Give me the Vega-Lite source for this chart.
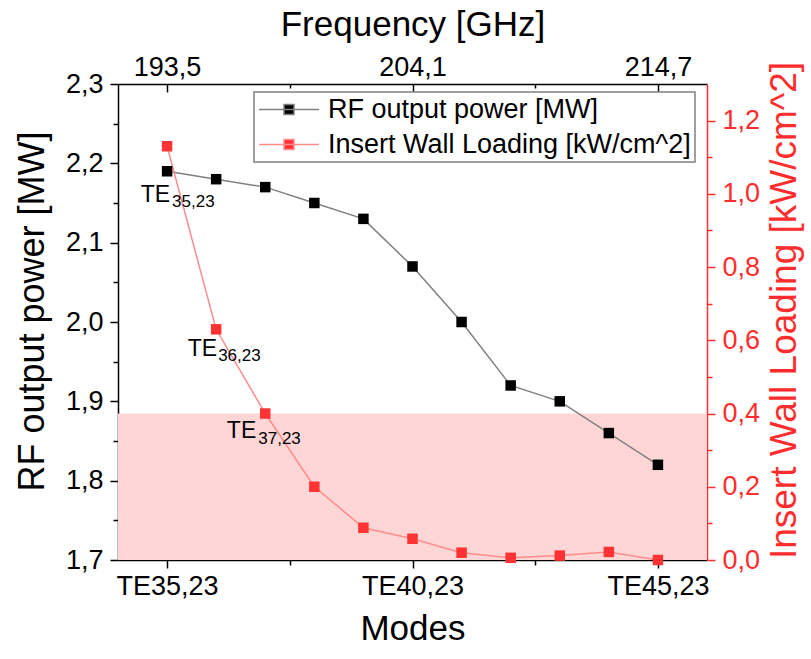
{
  "$schema": "https://vega.github.io/schema/vega-lite/v6.json",
  "width": 589,
  "height": 476,
  "autosize": {"type": "none"},
  "padding": {"left": 118, "top": 84, "right": 104, "bottom": 99},
  "config": {
    "view": {"stroke": null},
    "font": "Liberation Sans",
    "axis": {
      "grid": false,
      "labelFont": "Liberation Sans",
      "titleFont": "Liberation Sans",
      "titleFontWeight": "normal",
      "labelColor": "#000000",
      "titleColor": "#000000",
      "domainColor": "#000000",
      "tickColor": "#000000",
      "labelFontSize": 27,
      "titleFontSize": 35,
      "domainWidth": 1.5,
      "tickWidth": 1.5,
      "zindex": 1
    }
  },
  "data": {
    "values": [
      {"mode": 35, "rf": 2.19, "iwl": 1.13},
      {"mode": 36, "rf": 2.18, "iwl": 0.63},
      {"mode": 37, "rf": 2.17, "iwl": 0.40},
      {"mode": 38, "rf": 2.15, "iwl": 0.20},
      {"mode": 39, "rf": 2.13, "iwl": 0.088},
      {"mode": 40, "rf": 2.07, "iwl": 0.058},
      {"mode": 41, "rf": 2.00, "iwl": 0.02},
      {"mode": 42, "rf": 1.92, "iwl": 0.006},
      {"mode": 43, "rf": 1.90, "iwl": 0.012},
      {"mode": 44, "rf": 1.86, "iwl": 0.022},
      {"mode": 45, "rf": 1.82, "iwl": 0.0}
    ]
  },
  "resolve": {
    "scale": {"x": "independent", "y": "independent", "color": "shared"},
    "axis": {"x": "independent", "y": "independent"}
  },
  "layer": [
    {
      "data": {"values": [{"lo": 0, "hi": 0.4}]},
      "mark": {"type": "rect", "color": "#ffd6d6"},
      "encoding": {
        "y": {"field": "lo", "type": "quantitative", "scale": {"domain": [0, 1.3], "nice": false, "zero": false}, "axis": null},
        "y2": {"field": "hi"}
      }
    },
    {
      "mark": {"type": "point", "opacity": 0},
      "encoding": {
        "x": {"field": "mode", "type": "quantitative", "scale": {"domain": [34, 46], "nice": false, "zero": false},
              "axis": {"orient": "bottom", "values": [37.5, 42.5], "labels": false, "domain": false, "tickSize": 5, "title": null}},
        "y": {"field": "rf", "type": "quantitative", "scale": {"domain": [1.7, 2.3], "nice": false, "zero": false},
              "axis": {"orient": "left", "values": [1.75, 1.85, 1.95, 2.05, 2.15, 2.25], "labels": false, "domain": false, "tickSize": 5, "title": null}}
      }
    },
    {
      "mark": {"type": "point", "opacity": 0},
      "encoding": {
        "x": {"field": "mode", "type": "quantitative", "scale": {"domain": [34, 46], "nice": false, "zero": false},
              "axis": {"orient": "top", "values": [37.5, 42.5], "labels": false, "domain": false, "tickSize": -4, "title": null}},
        "y": {"field": "iwl", "type": "quantitative", "scale": {"domain": [0, 1.3], "nice": false, "zero": false},
              "axis": {"orient": "right", "values": [0.1, 0.3, 0.5, 0.7, 0.9, 1.1], "labels": false, "domain": false, "tickSize": 5, "tickColor": "#ff2d2d", "title": null}}
      }
    },
    {
      "mark": {"type": "line", "color": "#808080", "strokeWidth": 1.5},
      "encoding": {
        "x": {"field": "mode", "type": "quantitative", "scale": {"domain": [34, 46], "nice": false, "zero": false}, "axis": null},
        "y": {"field": "rf", "type": "quantitative", "scale": {"domain": [1.7, 2.3], "nice": false, "zero": false}, "axis": null}
      }
    },
    {
      "mark": {"type": "line", "color": "#ff8c8c", "strokeWidth": 1.5},
      "encoding": {
        "x": {"field": "mode", "type": "quantitative", "scale": {"domain": [34, 46], "nice": false, "zero": false}, "axis": null},
        "y": {"field": "iwl", "type": "quantitative", "scale": {"domain": [0, 1.3], "nice": false, "zero": false}, "axis": null}
      }
    },
    {
      "mark": {"type": "point", "shape": "square", "filled": true, "size": 110, "opacity": 1},
      "encoding": {
        "x": {"field": "mode", "type": "quantitative", "scale": {"domain": [34, 46], "nice": false, "zero": false},
              "axis": {"orient": "bottom", "values": [35, 40, 45], "labelExpr": "'TE' + datum.value + ',23'", "tickSize": 8, "labelPadding": 5, "title": "Modes", "titlePadding": 12}},
        "y": {"field": "rf", "type": "quantitative", "scale": {"domain": [1.7, 2.3], "nice": false, "zero": false},
              "axis": {"orient": "left", "values": [1.7, 1.8, 1.9, 2.0, 2.1, 2.2, 2.3], "labelExpr": "replace(format(datum.value, '.1f'), '.', ',')", "tickSize": 8, "labelPadding": 7, "title": "RF output power [MW]", "titleFontSize": 36, "titlePadding": 14, "titleY": 227}},
        "color": {
          "datum": "RF output power [MW]",
          "type": "nominal",
          "scale": {"domain": ["RF output power [MW]", "Insert Wall Loading [kW/cm^2]"], "range": ["#000000", "#ff3333"]},
          "legend": {
            "orient": "none",
            "legendX": 136,
            "legendY": 8,
            "title": null,
            "symbolType": "M-1,0H1M-0.167,-0.167H0.167V0.167H-0.167Z",
            "symbolSize": 3600,
            "symbolStrokeWidth": 1.5,
            "symbolOpacity": 1,
            "symbolOffset": 0,
            "clipHeight": 27,
            "rowPadding": 7,
            "labelFontSize": 27,
            "labelFont": "Liberation Sans",
            "labelColor": "#000000",
            "labelOffset": 8,
            "labelLimit": 600,
            "padding": 4,
            "strokeColor": "#808080",
            "fillColor": "#ffffff",
            "encode": {
              "legend": {"update": {"strokeWidth": {"value": 1.5}}},
              "symbols": {
                "update": {
                  "stroke": {"signal": "datum.value == 'RF output power [MW]' ? '#808080' : '#ff8c8c'"},
                  "fill": {"signal": "datum.value == 'RF output power [MW]' ? '#000000' : '#ff3333'"}
                }
              }
            }
          }
        }
      }
    },
    {
      "mark": {"type": "point", "shape": "square", "filled": true, "size": 110, "opacity": 1},
      "encoding": {
        "x": {"field": "mode", "type": "quantitative", "scale": {"domain": [34, 46], "nice": false, "zero": false},
              "axis": {"orient": "top", "values": [35, 40, 45], "labelExpr": "datum.value == 35 ? '193,5' : datum.value == 40 ? '204,1' : '214,7'", "tickSize": -8, "labelPadding": 11, "title": "Frequency [GHz]", "titlePadding": 11}},
        "y": {"field": "iwl", "type": "quantitative", "scale": {"domain": [0, 1.3], "nice": false, "zero": false},
              "axis": {"orient": "right", "values": [0, 0.2, 0.4, 0.6, 0.8, 1.0, 1.2], "labelExpr": "replace(format(datum.value, '.1f'), '.', ',')", "tickSize": 8, "labelPadding": 7, "labelColor": "#ff2d2d", "tickColor": "#ff2d2d", "domainColor": "#ff2d2d", "title": "Insert Wall Loading [kW/cm^2]", "titleColor": "#ff2d2d", "titleFontSize": 37, "titleAngle": 270, "titleBaseline": "top", "titlePadding": 7, "titleY": 226}},
        "color": {"datum": "Insert Wall Loading [kW/cm^2]", "type": "nominal"}
      }
    },
    {
      "transform": [{"filter": "datum.mode == 35"}],
      "mark": {"type": "text", "text": "TE", "align": "right", "baseline": "alphabetic", "dx": 3, "dy": 31, "fontSize": 23, "font": "Liberation Sans", "color": "#000000"},
      "encoding": {
        "x": {"field": "mode", "type": "quantitative", "scale": {"domain": [34, 46], "nice": false, "zero": false}, "axis": null},
        "y": {"field": "rf", "type": "quantitative", "scale": {"domain": [1.7, 2.3], "nice": false, "zero": false}, "axis": null}
      }
    },
    {
      "transform": [{"filter": "datum.mode == 35"}],
      "mark": {"type": "text", "text": "35,23", "align": "left", "baseline": "alphabetic", "dx": 5, "dy": 36, "fontSize": 17, "font": "Liberation Sans", "color": "#000000"},
      "encoding": {
        "x": {"field": "mode", "type": "quantitative", "scale": {"domain": [34, 46], "nice": false, "zero": false}, "axis": null},
        "y": {"field": "rf", "type": "quantitative", "scale": {"domain": [1.7, 2.3], "nice": false, "zero": false}, "axis": null}
      }
    },
    {
      "transform": [{"filter": "datum.mode == 36"}],
      "mark": {"type": "text", "text": "TE", "align": "right", "baseline": "alphabetic", "dx": 1, "dy": 27, "fontSize": 23, "font": "Liberation Sans", "color": "#000000"},
      "encoding": {
        "x": {"field": "mode", "type": "quantitative", "scale": {"domain": [34, 46], "nice": false, "zero": false}, "axis": null},
        "y": {"field": "iwl", "type": "quantitative", "scale": {"domain": [0, 1.3], "nice": false, "zero": false}, "axis": null}
      }
    },
    {
      "transform": [{"filter": "datum.mode == 36"}],
      "mark": {"type": "text", "text": "36,23", "align": "left", "baseline": "alphabetic", "dx": 2, "dy": 32, "fontSize": 17, "font": "Liberation Sans", "color": "#000000"},
      "encoding": {
        "x": {"field": "mode", "type": "quantitative", "scale": {"domain": [34, 46], "nice": false, "zero": false}, "axis": null},
        "y": {"field": "iwl", "type": "quantitative", "scale": {"domain": [0, 1.3], "nice": false, "zero": false}, "axis": null}
      }
    },
    {
      "transform": [{"filter": "datum.mode == 37"}],
      "mark": {"type": "text", "text": "TE", "align": "right", "baseline": "alphabetic", "dx": -9, "dy": 24, "fontSize": 23, "font": "Liberation Sans", "color": "#000000"},
      "encoding": {
        "x": {"field": "mode", "type": "quantitative", "scale": {"domain": [34, 46], "nice": false, "zero": false}, "axis": null},
        "y": {"field": "iwl", "type": "quantitative", "scale": {"domain": [0, 1.3], "nice": false, "zero": false}, "axis": null}
      }
    },
    {
      "transform": [{"filter": "datum.mode == 37"}],
      "mark": {"type": "text", "text": "37,23", "align": "left", "baseline": "alphabetic", "dx": -7, "dy": 30, "fontSize": 17, "font": "Liberation Sans", "color": "#000000"},
      "encoding": {
        "x": {"field": "mode", "type": "quantitative", "scale": {"domain": [34, 46], "nice": false, "zero": false}, "axis": null},
        "y": {"field": "iwl", "type": "quantitative", "scale": {"domain": [0, 1.3], "nice": false, "zero": false}, "axis": null}
      }
    }
  ]
}
